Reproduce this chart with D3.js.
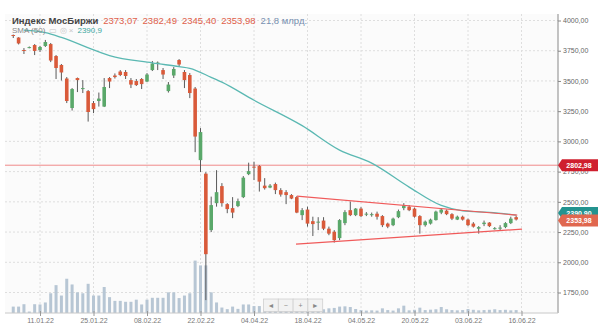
<!DOCTYPE html>
<html>
<head>
<meta charset="utf-8">
<script src="https://cdn.jsdelivr.net/npm/d3@7"></script>
<style>
  body { margin: 0; background: #fff; }
  text { font-family: "Liberation Sans", Arial, sans-serif; }
</style>
</head>
<body>
<div id="chart"></div>
<script>
// IMOEX daily candles, 03.01.22 - 16.06.22
var opens  = [3880,3859,3756,3775,3797,3756,3789,3805,3706,3632,3520,3276,3524,3433,3416,3317,3334,3288,3524,3545,
              3578,3574,3507,3499,3516,3495,3590,3640,3590,3416,3545,3673,3574,3549,3437,2845,2733,2266,2489,2630,
              2481,2448,2465,2539,2729,2791,2796,2634,2618,2647,2597,2580,2556,2539,2390,2436,2340,2328,2345,2278,
              2253,2200,2324,2431,2390,2444,2394,2390,2402,2382,2320,2307,2373,2448,2460,2444,2382,2307,2320,2349,
              2411,2427,2398,2353,2377,2353,2320,2278,2316,2328,2278,2278,2291,2324,2373.07];
var highs  = [3884,3862,3772,3785,3805,3790,3839,3814,3714,3640,3532,3441,3528,3507,3425,3334,3404,3524,3532,3562,
              3590,3590,3524,3516,3524,3565,3665,3661,3607,3491,3615,3681,3590,3565,3450,3110,2746,2543,2762,2655,
              2489,2539,2527,2713,2824,2832,2804,2696,2647,2659,2613,2597,2564,2547,2448,2460,2377,2373,2373,2295,
              2266,2357,2431,2502,2448,2456,2415,2411,2419,2390,2328,2369,2436,2489,2473,2452,2390,2345,2361,2427,
              2448,2436,2406,2386,2386,2361,2332,2299,2345,2332,2291,2307,2332,2377,2382.49];
var lows   = [3855,3802,3723,3770,3714,3740,3781,3656,3516,3503,3317,3255,3408,3400,3164,3234,3288,3284,3441,3520,
              3540,3516,3441,3458,3433,3491,3582,3590,3516,3404,3524,3615,3441,3358,2911,2746,1687,2250,2460,2460,
              2406,2365,2456,2531,2721,2680,2585,2601,2613,2564,2543,2481,2522,2406,2349,2295,2217,2266,2266,2224,
              2163,2183,2307,2382,2382,2373,2382,2377,2353,2291,2282,2299,2365,2431,2423,2369,2237,2295,2312,2345,
              2398,2390,2349,2349,2345,2299,2287,2237,2299,2291,2270,2258,2282,2316,2345.40];
var closes = [3873,3810,3748,3780,3748,3781,3822,3669,3607,3570,3334,3433,3507,3441,3243,3267,3354,3450,3495,3532,
              3549,3541,3470,3466,3474,3553,3644,3652,3553,3470,3599,3636,3507,3400,3040,3077,2067,2473,2580,2489,
              2440,2411,2506,2700,2754,2783,2667,2613,2634,2597,2560,2556,2527,2411,2431,2320,2316,2336,2278,2237,
              2183,2349,2415,2390,2444,2382,2402,2398,2377,2307,2295,2361,2423,2469,2431,2377,2307,2336,2353,2419,
              2436,2398,2361,2377,2353,2307,2295,2291,2328,2299,2282,2287,2324,2361,2353.98];
// volume, bn RUB
var volumes = [48,48,66,11,66,64,79,148,209,131,257,214,155,148,219,131,131,195,119,91,
               91,84,84,100,64,100,114,114,114,155,155,112,131,148,393,357,357,155,79,41,
               29,48,31,64,64,52,52,25,22,28,25,30,22,35,28,30,25,22,28,35,
               38,48,50,45,30,22,18,20,18,35,22,18,35,55,20,24,40,22,25,28,
               45,28,22,20,22,30,24,20,22,24,28,22,24,20,21.8];

// SMA(50) read at a few candles
var smaIdx = [2,6,9,16,18,26,31,33,37,39,45,54,61,67,74,80,84,89,94];
var smaVal = [3921,3900,3860,3740,3710,3650,3618,3604,3530,3490,3340,3130,2928,2820,2622,2470,2425,2412,2390.9];

// triangle lines drawn on the chart (index, price)
var upperLine = [[53.0,2547],[94.2,2390]];
var lowerLine = [[52.85,2150],[95.1,2274]];
var levelPrice = 2802.98;

// axis ticks
var priceTicks = [1750,2000,2250,2500,2750,3000,3250,3500,3750,4000];
var dateIdx    = [5,15,25,35,45,55,65,75,85,95];
var dateLabels = ["11.01.22","25.01.22","08.02.22","22.02.22","04.04.22","18.04.22","04.05.22","20.05.22","03.06.22","16.06.22"];

var w = 600, h = 329;
var plot = {left: 5, right: 558, top: 14, bottom: 313};

var svg = d3.select("#chart").append("svg")
  .attr("width", w)
  .attr("height", h);

var x = d3.scaleLinear().domain([0, 95]).range([13.25, 521.5]);
var y = d3.scaleLinear().domain([1750, 4000]).range([292.5, 20.5]);
var vy = d3.scaleLinear().domain([0, 300]).range([plot.bottom, plot.bottom - 40]);

var fmt = function(v) { return d3.format(".2f")(v).replace(".", ","); };

// plot background
svg.append("rect")
  .attr("x", plot.left).attr("y", plot.top)
  .attr("width", plot.right - plot.left).attr("height", plot.bottom - plot.top)
  .attr("fill", "#fbfbfb");

// grid
svg.append("g").selectAll("line.hg")
  .data(priceTicks).enter().append("line")
  .attr("x1", plot.left).attr("x2", plot.right)
  .attr("y1", function(d) { return y(d); }).attr("y2", function(d) { return y(d); })
  .attr("stroke", "#dedede").attr("stroke-dasharray", "2,2");
svg.append("g").selectAll("line.vg")
  .data(dateIdx).enter().append("line")
  .attr("x1", function(d) { return x(d); }).attr("x2", function(d) { return x(d); })
  .attr("y1", plot.top).attr("y2", plot.bottom)
  .attr("stroke", "#dedede").attr("stroke-dasharray", "2,2");

// volume bars
svg.append("g").selectAll("rect")
  .data(volumes).enter().append("rect")
  .attr("x", function(d, i) { return x(i) - 1.5; })
  .attr("y", function(d) { return vy(d); })
  .attr("width", 3)
  .attr("height", function(d) { return plot.bottom - vy(d); })
  .attr("fill", "#b7c6d4");

// horizontal level
svg.append("line")
  .attr("x1", plot.left).attr("x2", plot.right)
  .attr("y1", y(levelPrice)).attr("y2", y(levelPrice))
  .attr("stroke", "#f08a8a").attr("stroke-width", 1);

// candles
var candles = svg.append("g").selectAll("g")
  .data(opens).enter().append("g");

candles.append("line")
  .attr("x1", function(d, i) { return x(i); })
  .attr("x2", function(d, i) { return x(i); })
  .attr("y1", function(d, i) { return y(highs[i]); })
  .attr("y2", function(d, i) { return y(lows[i]); })
  .attr("stroke", "#5a5a5a").attr("stroke-width", 1);

candles.append("rect")
  .attr("x", function(d, i) { return x(i) - 1.8; })
  .attr("width", 3.6)
  .attr("y", function(d, i) { return y(Math.max(d, closes[i])); })
  .attr("height", function(d, i) { return Math.max(1, Math.abs(y(d) - y(closes[i]))); })
  .attr("fill", function(d, i) { return closes[i] >= d ? "#5aa86a" : "#d95a3a"; });

// SMA line
var smaLine = d3.line()
  .x(function(d) { return x(d); })
  .y(function(d, i) { return y(smaVal[i]); })
  .curve(d3.curveMonotoneX);
svg.append("path")
  .attr("d", smaLine(smaIdx))
  .attr("fill", "none").attr("stroke", "#5ab8b2").attr("stroke-width", 1.3);

// triangle
var seg = d3.line().x(function(d) { return x(d[0]); }).y(function(d) { return y(d[1]); });
[upperLine, lowerLine].forEach(function(l) {
  svg.append("path").attr("d", seg(l))
    .attr("fill", "none").attr("stroke", "#f05a5a").attr("stroke-width", 1.2);
});

// right price axis
var yAxis = d3.axisRight(y).tickValues(priceTicks).tickSize(3).tickPadding(2).tickFormat(fmt);
var ya = svg.append("g")
  .attr("transform", "translate(" + plot.right + ",0)")
  .call(yAxis);
ya.select(".domain").attr("d", "M0," + plot.top + "V" + plot.bottom).attr("stroke", "#888");
ya.selectAll(".tick line").attr("stroke", "#888");
ya.selectAll(".tick text").attr("fill", "#666").style("font-size", "7px");

// bottom date axis
var xAxis = d3.axisBottom(x).tickValues(dateIdx).tickSize(3).tickPadding(2)
  .tickFormat(function(d, i) { return dateLabels[i]; });
var xa = svg.append("g")
  .attr("transform", "translate(0," + plot.bottom + ")")
  .call(xAxis);
xa.select(".domain").attr("d", "M" + plot.left + ",0H" + plot.right).attr("stroke", "#c8c8c8");
xa.selectAll(".tick line").attr("stroke", "#999").attr("y1", -2);
xa.selectAll(".tick text").attr("fill", "#777").style("font-size", "7px");

// price tags on the axis (the SMA tag sits mostly under the last-price tag, as in the terminal)
function tag(price, fill, label, dy) {
  var cy = y(price) + (dy || 0);
  svg.append("path")
    .attr("d", "M" + plot.right + "," + cy + "L" + (plot.right + 4) + "," + (cy - 6) +
      "H598V" + (cy + 6) + "H" + (plot.right + 4) + "Z")
    .attr("fill", fill);
  svg.append("text")
    .attr("x", 579).attr("y", cy + 2.5)
    .attr("text-anchor", "middle")
    .attr("fill", "#fff").style("font-size", "7px").style("font-weight", "bold")
    .text(label);
}
tag(levelPrice, "#cf1f2e", fmt(levelPrice));
tag(smaVal[smaVal.length - 1], "#23938f", fmt(smaVal[smaVal.length - 1]), -2);
tag(closes[closes.length - 1], "#e0674f", fmt(closes[closes.length - 1]), 1);

// navigation buttons
var navBtns = ["◄", "−", "+", "►"];
var nav = svg.append("g").selectAll("g").data(navBtns).enter().append("g");
nav.append("rect")
  .attr("x", function(d, i) { return 263.5 + i * 14.8; }).attr("y", 299)
  .attr("width", 14.8).attr("height", 12.5)
  .attr("fill", "#f2f2f2").attr("stroke", "#cfcfcf").attr("stroke-width", 0.8);
nav.append("text")
  .attr("x", function(d, i) { return 270.9 + i * 14.8; }).attr("y", 308)
  .attr("text-anchor", "middle").attr("fill", "#888").style("font-size", "7px")
  .text(function(d) { return d; });

// header
var last = opens.length - 1;
var head = svg.append("text").attr("x", 12).attr("y", 24).style("font-size", "9.5px");
head.append("tspan").attr("fill", "#444").style("font-weight", "bold").text("Индекс МосБиржи");
[opens[last], highs[last], lows[last], closes[last]].forEach(function(v) {
  head.append("tspan").attr("dx", 5).attr("fill", "#e0604a").text(fmt(v));
});
head.append("tspan").attr("dx", 5).attr("fill", "#7890b0").text(d3.format(".1f")(volumes[last]).replace(".", ",") + " млрд.");

var sub = svg.append("text").attr("x", 12).attr("y", 32.5).style("font-size", "8px");
sub.append("tspan").attr("fill", "#888").text("SMA (50)");
sub.append("tspan").attr("dx", 4).attr("fill", "#c8c8c8").text("▭ ◎ ×");
sub.append("tspan").attr("dx", 4).attr("fill", "#3aa7a0").text(d3.format(".1f")(smaVal[smaVal.length - 1]).replace(".", ","));
</script>
</body>
</html>
